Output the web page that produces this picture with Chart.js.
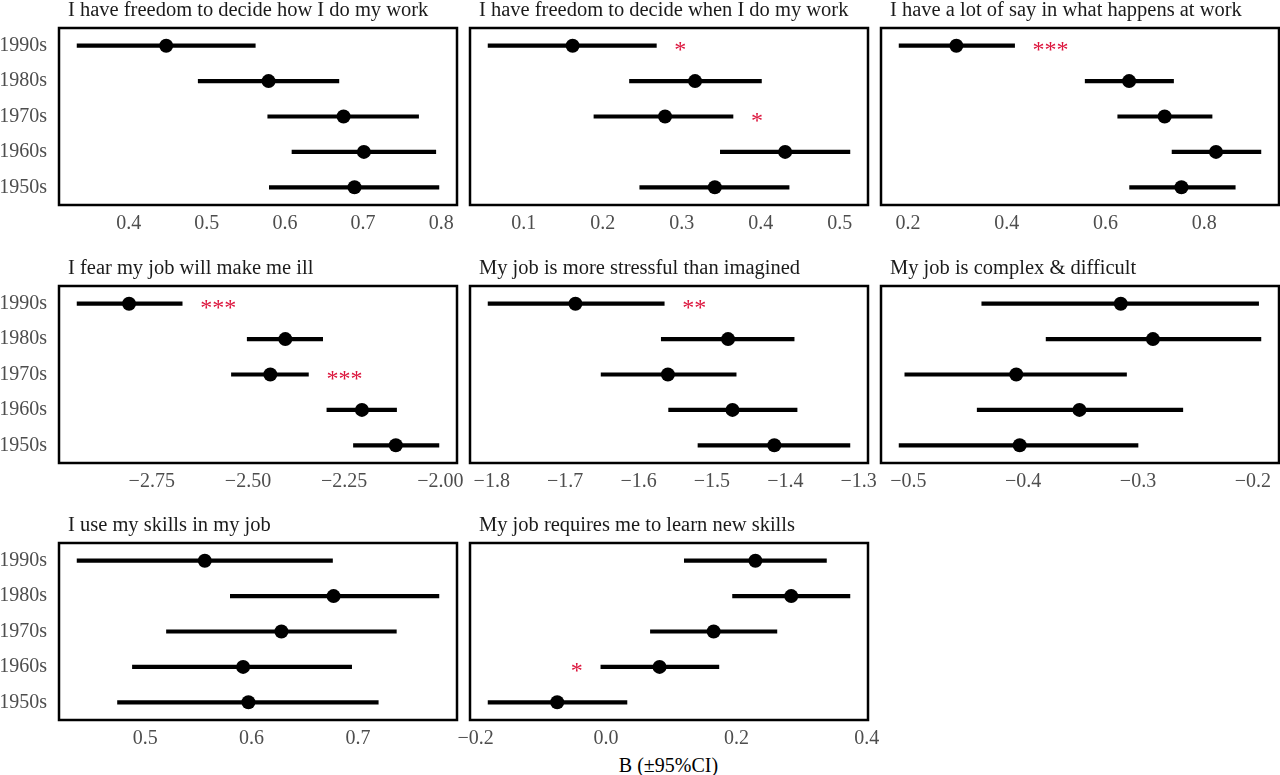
<!DOCTYPE html>
<html>
<head>
<meta charset="utf-8">
<script src="https://cdn.jsdelivr.net/npm/chart.js@4.4.1/dist/chart.umd.min.js"></script>
<style>
  html, body { margin: 0; padding: 0; background: #fff; }
  body { width: 1280px; height: 775px; position: relative; overflow: hidden;
         font-family: "Liberation Serif", "Times New Roman", serif; }
  canvas { position: absolute; }
  #xlab { position: absolute; left: 59px; width: 1219px; top: 753px; text-align: center;
          font-size: 20px; line-height: 24px; color: #000; }
</style>
</head>
<body>
<div id="xlab">B (±95%CI)</div>
<script>
// decades, top to bottom
const decades = ['1990s', '1980s', '1970s', '1960s', '1950s'];

// I have freedom to decide how I do my work
const howEst = [0.448, 0.579, 0.675, 0.701, 0.689];
const howLo = [0.334, 0.489, 0.578, 0.609, 0.580];
const howHi = [0.562, 0.669, 0.771, 0.793, 0.797];
const howSig = ['', '', '', '', ''];
const howTicks = ['0.4', '0.5', '0.6', '0.7', '0.8'];

// I have freedom to decide when I do my work
const whenEst = [0.162, 0.317, 0.279, 0.431, 0.342];
const whenLo = [0.055, 0.234, 0.189, 0.349, 0.247];
const whenHi = [0.268, 0.401, 0.365, 0.513, 0.436];
const whenSig = ['*', '', '*', '', ''];
const whenTicks = ['0.1', '0.2', '0.3', '0.4', '0.5'];

// I have a lot of say in what happens at work
const sayEst = [0.298, 0.648, 0.720, 0.824, 0.754];
const sayLo = [0.182, 0.559, 0.625, 0.735, 0.649];
const sayHi = [0.416, 0.738, 0.816, 0.915, 0.863];
const saySig = ['***', '', '', '', ''];
const sayTicks = ['0.2', '0.4', '0.6', '0.8'];

// I fear my job will make me ill
const illEst = [-2.809, -2.403, -2.442, -2.204, -2.116];
const illLo = [-2.944, -2.502, -2.543, -2.295, -2.226];
const illHi = [-2.671, -2.306, -2.343, -2.114, -2.004];
const illSig = ['***', '', '***', '', ''];
const illTicks = ['−2.75', '−2.50', '−2.25', '−2.00'];

// My job is more stressful than imagined
const stressEst = [-1.686, -1.478, -1.560, -1.472, -1.415];
const stressLo = [-1.805, -1.569, -1.651, -1.559, -1.519];
const stressHi = [-1.565, -1.388, -1.467, -1.384, -1.312];
const stressSig = ['**', '', '', '', ''];
const stressTicks = ['−1.8', '−1.7', '−1.6', '−1.5', '−1.4', '−1.3'];

// My job is complex & difficult
const complexEst = [-0.315, -0.287, -0.406, -0.351, -0.403];
const complexLo = [-0.436, -0.380, -0.503, -0.440, -0.508];
const complexHi = [-0.195, -0.193, -0.310, -0.261, -0.300];
const complexSig = ['', '', '', '', ''];
const complexTicks = ['−0.5', '−0.4', '−0.3', '−0.2'];

// I use my skills in my job
const skillsEst = [0.556, 0.677, 0.628, 0.592, 0.597];
const skillsLo = [0.436, 0.580, 0.520, 0.488, 0.474];
const skillsHi = [0.676, 0.776, 0.736, 0.694, 0.719];
const skillsSig = ['', '', '', '', ''];
const skillsTicks = ['0.5', '0.6', '0.7'];

// My job requires me to learn new skills (star sits left of the interval)
const learnEst = [0.229, 0.284, 0.165, 0.082, -0.075];
const learnLo = [0.120, 0.194, 0.068, -0.008, -0.181];
const learnHi = [0.338, 0.374, 0.262, 0.173, 0.032];
const learnSig = ['', '', '', '', ''];
const learnSigLeft = ['', '', '', '*', ''];
const learnTicks = ['−0.2', '0.0', '0.2', '0.4'];

const panels = [
  { title: 'I have freedom to decide how I do my work', est: howEst, lo: howLo, hi: howHi, sig: howSig, ticks: howTicks },
  { title: 'I have freedom to decide when I do my work', est: whenEst, lo: whenLo, hi: whenHi, sig: whenSig, ticks: whenTicks },
  { title: 'I have a lot of say in what happens at work', est: sayEst, lo: sayLo, hi: sayHi, sig: saySig, ticks: sayTicks },
  { title: 'I fear my job will make me ill', est: illEst, lo: illLo, hi: illHi, sig: illSig, ticks: illTicks },
  { title: 'My job is more stressful than imagined', est: stressEst, lo: stressLo, hi: stressHi, sig: stressSig, ticks: stressTicks },
  { title: 'My job is complex & difficult', est: complexEst, lo: complexLo, hi: complexHi, sig: complexSig, ticks: complexTicks },
  { title: 'I use my skills in my job', est: skillsEst, lo: skillsLo, hi: skillsHi, sig: skillsSig, ticks: skillsTicks },
  { title: 'My job requires me to learn new skills', est: learnEst, lo: learnLo, hi: learnHi, sig: learnSig, sigLeft: learnSigLeft, ticks: learnTicks },
];

const FONT = '"Liberation Serif", "Times New Roman", serif';
Chart.defaults.font.family = FONT;

// layout of the facet grid
const colLeft = [59, 470, 881];
const rowTop = [28, 286, 543];
const boxW = 398, boxH = 177;
const yAxisW = 59, topPad = 28, rightPad = 30, xAxisH = 42;

function deco(p) {
  return {
    id: 'deco',
    afterDatasetsDraw(chart) {
      const { ctx, chartArea: a, scales } = chart;
      ctx.save();
      ctx.fillStyle = '#DC143C';
      ctx.font = '24px ' + FONT;
      ctx.textBaseline = 'middle';
      p.sig.forEach((s, i) => {
        if (!s) return;
        ctx.textAlign = 'left';
        ctx.fillText(s, scales.x.getPixelForValue(p.hi[i]) + 18, scales.y.getPixelForValue(i) + 5);
      });
      (p.sigLeft || []).forEach((s, i) => {
        if (!s) return;
        ctx.textAlign = 'right';
        ctx.fillText(s, scales.x.getPixelForValue(p.lo[i]) - 18, scales.y.getPixelForValue(i) + 5);
      });
      ctx.strokeStyle = '#000';
      ctx.lineWidth = 2.5;
      ctx.strokeRect(a.left, a.top, a.right - a.left, a.bottom - a.top);
      ctx.fillStyle = '#1a1a1a';
      ctx.font = '20.5px ' + FONT;
      ctx.textAlign = 'left';
      ctx.textBaseline = 'alphabetic';
      ctx.fillText(p.title, a.left + 9, a.top - 12);
      ctx.restore();
    }
  };
}

panels.forEach((p, k) => {
  const col = k % 3, row = Math.floor(k / 3);
  const canvas = document.createElement('canvas');
  canvas.width = yAxisW + boxW + rightPad;
  canvas.height = topPad + boxH + xAxisH;
  canvas.style.left = (colLeft[col] - yAxisW) + 'px';
  canvas.style.top = (rowTop[row] - topPad) + 'px';
  document.body.appendChild(canvas);

  const lo = Math.min(...p.lo), hi = Math.max(...p.hi), pad = (hi - lo) * 0.05;
  const tickVals = p.ticks.map(t => parseFloat(t.replace('−', '-')));

  new Chart(canvas, {
    type: 'bar',
    data: {
      labels: decades,
      datasets: [
        {
          type: 'line',
          data: p.est.map((v, i) => ({ x: v, y: decades[i] })),
          showLine: false,
          pointRadius: 7,
          pointBackgroundColor: '#000',
          pointBorderWidth: 0,
          order: 0
        },
        {
          data: p.lo.map((v, i) => [v, p.hi[i]]),
          backgroundColor: '#000',
          borderWidth: 0,
          barThickness: 3.5,
          order: 1
        }
      ]
    },
    options: {
      indexAxis: 'y',
      responsive: false,
      animation: false,
      layout: { padding: { top: topPad, right: rightPad, left: 0, bottom: 0 } },
      plugins: { legend: { display: false }, tooltip: { enabled: false } },
      scales: {
        y: {
          type: 'category',
          offset: true,
          grid: { display: false, drawTicks: false },
          border: { display: false },
          ticks: { display: col === 0, padding: 12, color: '#4d4d4d', font: { size: 20 } },
          afterFit: s => { s.width = yAxisW; }
        },
        x: {
          type: 'linear',
          min: lo - pad,
          max: hi + pad,
          grid: { display: false, drawTicks: false },
          border: { display: false },
          ticks: {
            padding: 7,
            color: '#4d4d4d',
            font: { size: 20 },
            maxRotation: 0,
            autoSkip: false,
            callback: (v, i) => p.ticks[i]
          },
          afterBuildTicks: s => { s.ticks = tickVals.map(v => ({ value: v })); },
          afterFit: s => { s.height = xAxisH; }
        }
      }
    },
    plugins: [deco(p)]
  });
});
</script>
</body>
</html>
